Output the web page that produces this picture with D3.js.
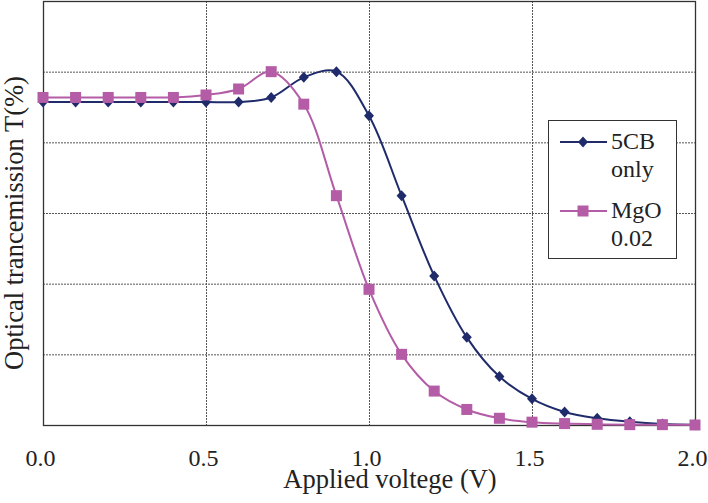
<!DOCTYPE html>
<html>
<head>
<meta charset="utf-8">
<script src="https://cdn.jsdelivr.net/npm/d3@7"></script>
<style>
  body { margin: 0; background: #fff; }
  text { font-family: "Liberation Serif", "Times New Roman", serif; fill: #222; }
</style>
</head>
<body>
<div id="chartContainer"></div>
<script>
// applied voltage (V)
var voltage = [0.0, 0.1, 0.2, 0.3, 0.4, 0.5, 0.6, 0.7, 0.8, 0.9, 1.0,
               1.1, 1.2, 1.3, 1.4, 1.5, 1.6, 1.7, 1.8, 1.9, 2.0];

// transmission (axis has no numbers, 0..120 used)
var only5CB = [91.4, 91.4, 91.4, 91.4, 91.4, 91.4, 91.4, 92.7, 98.4, 100, 87.5,
               64.9, 42.2, 24.8, 13.7, 7.4, 3.7, 1.9, 0.9, 0.3, 0.1];
var mgo002  = [92.7, 92.7, 92.7, 92.7, 92.7, 93.4, 95.1, 100, 90.8, 64.9, 38.4,
               20.0, 9.6, 4.4, 1.9, 0.8, 0.4, 0.2, 0.1, 0.1, 0.0];

var xTicks = [0, 0.5, 1.0, 1.5, 2.0];
var yGrid = [0, 20, 40, 60, 80, 100, 120];
var seriesNames = [["5CB", "only"], ["MgO", "0.02"]];

var cfg = {
  w: 708,
  h: 503,
  left: 43,
  right: 695,
  top: 1,
  bot: 425
};

var navy = "#1f2b6a",
    pink = "#b45ca6";

var svg = d3.select("#chartContainer").append("svg")
  .attr("width", cfg.w)
  .attr("height", cfg.h);

var xScale = d3.scaleLinear().domain([0, 2]).range([cfg.left, cfg.right]);
var yScale = d3.scaleLinear().domain([0, 120]).range([cfg.bot, cfg.top]);

// grid lines (dotted)
var grid = svg.append("g").attr("class", "grid");
grid.selectAll(".hGrid")
  .data(yGrid.slice(1, -1))
  .enter()
  .append("line")
  .attr("x1", cfg.left).attr("x2", cfg.right)
  .attr("y1", function(d) { return yScale(d) + 0.5; })
  .attr("y2", function(d) { return yScale(d) + 0.5; })
  .style("stroke", "#555")
  .style("stroke-width", 1)
  .style("stroke-dasharray", "2,1");

grid.selectAll(".vGrid")
  .data(xTicks.slice(1, -1))
  .enter()
  .append("line")
  .attr("x1", function(d) { return Math.round(xScale(d)) + 0.5; })
  .attr("x2", function(d) { return Math.round(xScale(d)) + 0.5; })
  .attr("y1", cfg.top).attr("y2", cfg.bot)
  .style("stroke", "#555")
  .style("stroke-width", 1)
  .style("stroke-dasharray", "2,1");

// plot frame
svg.append("rect")
  .attr("x", cfg.left + 0.5)
  .attr("y", cfg.top + 0.5)
  .attr("width", cfg.right - cfg.left)
  .attr("height", cfg.bot - cfg.top)
  .style("fill", "none")
  .style("stroke", "#333")
  .style("stroke-width", 1.3);

// x axis tick labels
var xAxis = d3.axisBottom(xScale)
  .tickValues(xTicks)
  .tickSize(0)
  .tickPadding(0)
  .tickFormat(d3.format(".1f"));

var xAxisG = svg.append("g")
  .attr("transform", "translate(-3," + cfg.bot + ")")
  .call(xAxis);
xAxisG.select(".domain").remove();
xAxisG.selectAll("text")
  .attr("dy", null)
  .attr("y", 41)
  .style("font-family", "Liberation Serif, serif")
  .style("font-size", "24px")
  .style("fill", "#222");

// axis titles
svg.append("text")
  .attr("x", 390)
  .attr("y", 488)
  .attr("text-anchor", "middle")
  .style("font-size", "26.5px")
  .text("Applied voltege (V)");

svg.append("text")
  .attr("transform", "translate(23,223) rotate(-90)")
  .attr("text-anchor", "middle")
  .style("font-size", "26.5px")
  .text("Optical trancemission T(%)");

// series
var series = [
  { name: seriesNames[0], values: only5CB, color: navy, marker: "diamond" },
  { name: seriesNames[1], values: mgo002, color: pink, marker: "square" }
];

var line = d3.line()
  .x(function(d) { return xScale(d[0]); })
  .y(function(d) { return yScale(d[1]); })
  .curve(d3.curveCatmullRom.alpha(0.5));

function markerPath(type) {
  if (type == "diamond") return "M0,-5.5L5,0L0,5.5L-5,0Z";
  return "M-5.5,-5.5H5.5V5.5H-5.5Z";
}

// draw MgO first so 5CB line sits under its squares like the picture? draw 5CB first
series.forEach(function(s) {
  var pts = voltage.map(function(v, i) { return [v, s.values[i]]; });
  var g = svg.append("g").attr("class", "series");

  g.append("path")
    .datum(pts)
    .attr("d", line)
    .style("fill", "none")
    .style("stroke", s.color)
    .style("stroke-width", 2);

  g.selectAll(".pt")
    .data(pts)
    .enter()
    .append("path")
    .attr("transform", function(d) {
      return "translate(" + xScale(d[0]) + "," + yScale(d[1]) + ")";
    })
    .attr("d", markerPath(s.marker))
    .style("fill", s.color);
});

// legend
var legend = svg.append("g").attr("class", "legend");
legend.append("rect")
  .attr("x", 548.5).attr("y", 120.5)
  .attr("width", 128).attr("height", 138)
  .style("fill", "#fff")
  .style("stroke", "#333")
  .style("stroke-width", 1);

var legendRows = [
  { y: 142, lines: [149, 177] },
  { y: 211, lines: [218, 246] }
];

series.forEach(function(s, i) {
  var r = legendRows[i];
  legend.append("line")
    .attr("x1", 560).attr("x2", 607)
    .attr("y1", r.y).attr("y2", r.y)
    .style("stroke", s.color)
    .style("stroke-width", 2);
  legend.append("path")
    .attr("transform", "translate(583," + r.y + ")")
    .attr("d", markerPath(s.marker))
    .style("fill", s.color);
  s.name.forEach(function(t, j) {
    legend.append("text")
      .attr("x", 611)
      .attr("y", r.lines[j])
      .style("font-size", "24px")
      .text(t);
  });
});
</script>
</body>
</html>
